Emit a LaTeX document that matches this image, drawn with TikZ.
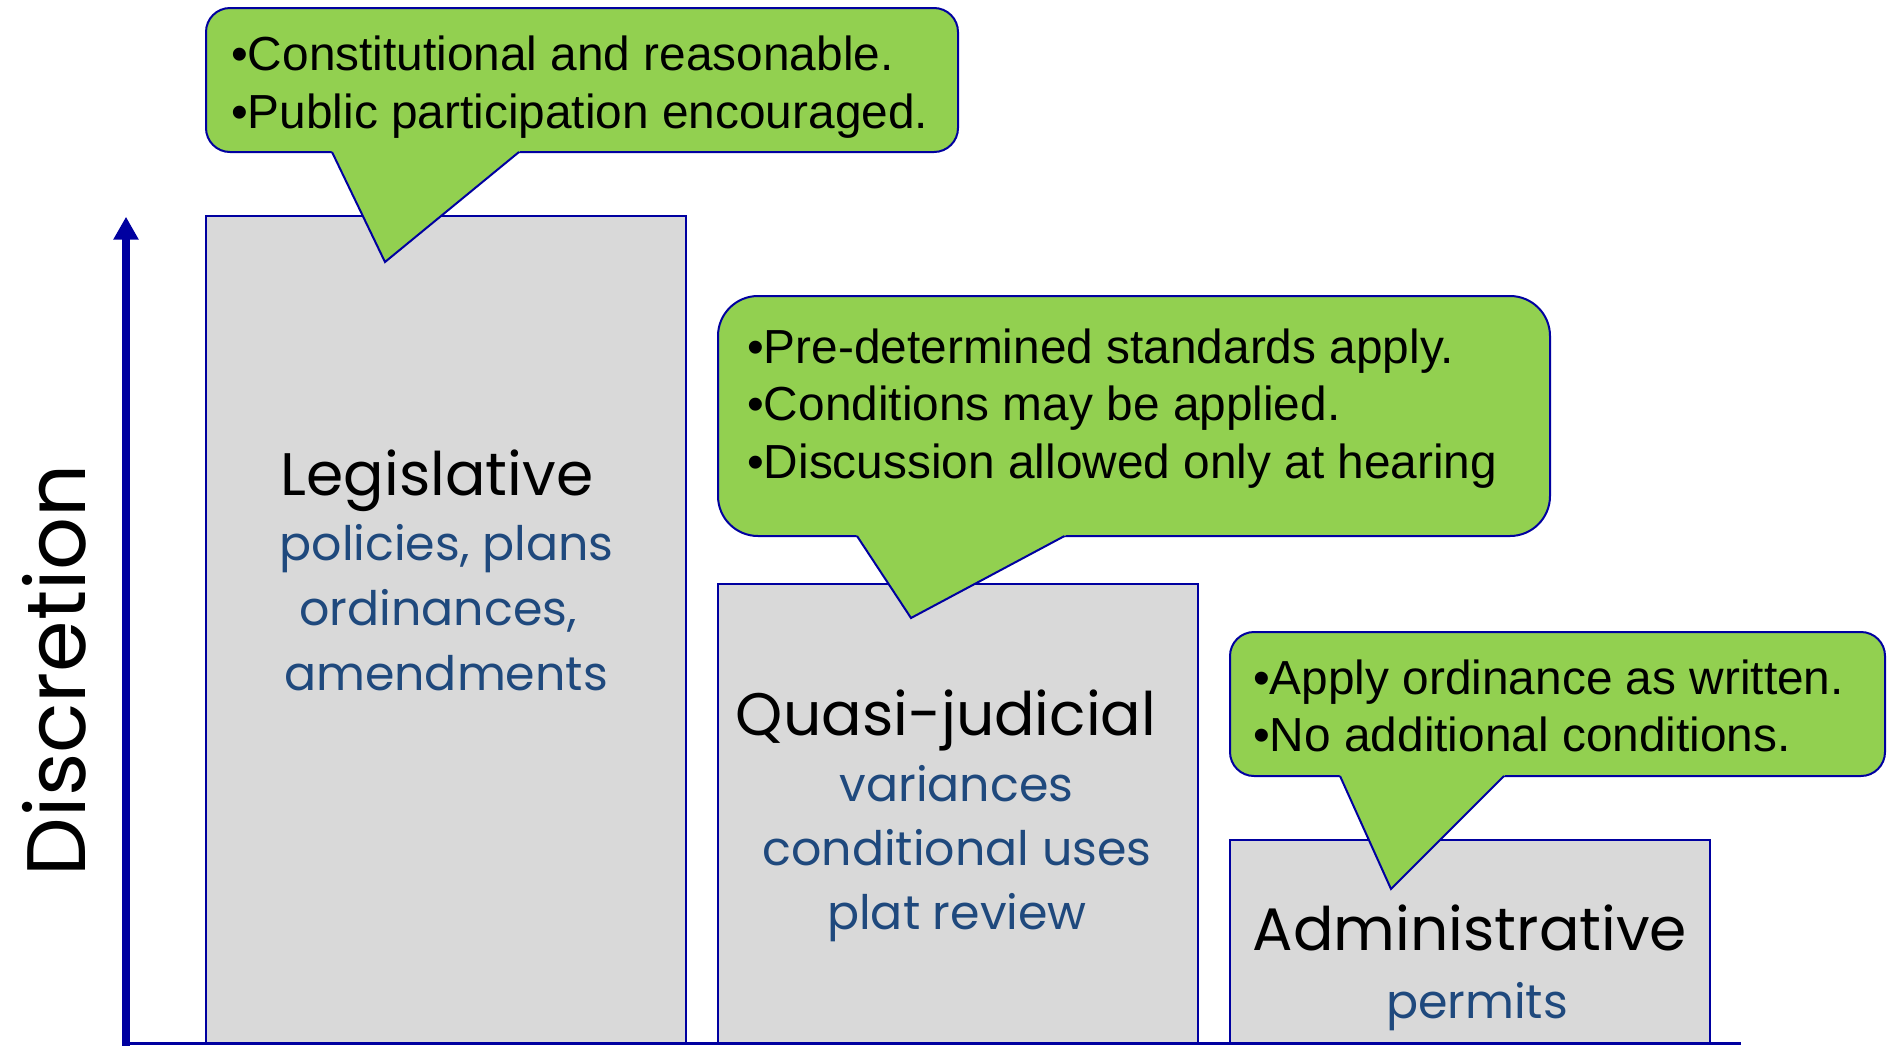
\documentclass[tikz,border=0pt]{standalone}
\usepackage{fontspec}
\setmainfont{Liberation Sans}
\newfontfamily\comic{Poppins}
\usetikzlibrary{arrows.meta,calc}
\definecolor{navyline}{RGB}{0,0,160}
\definecolor{calloutgreen}{RGB}{146,208,80}
\definecolor{boxgrey}{RGB}{217,217,217}
\definecolor{subblue}{RGB}{31,73,125}
\begin{document}
\begin{tikzpicture}[x=1pt,y=-1pt,
  box/.style={draw=navyline, fill=boxgrey, line width=2.2pt, minimum width=480pt, inner sep=0pt, outer sep=0pt, anchor=north west},
  callout/.style={draw=navyline, fill=calloutgreen, line width=2pt, inner sep=0pt, outer sep=0pt, anchor=north west},
  tailline/.style={draw=navyline, line width=2pt, line join=miter},
  bullettext/.style={font=\fontsize{47.8}{57.5}\selectfont, anchor=base west, inner sep=0pt},
  titletext/.style={font=\comic\fontsize{60}{70}\selectfont, anchor=base, inner sep=0pt},
  subtext/.style={font=\comic\fontsize{47.5}{58}\selectfont, text=subblue, anchor=base, inner sep=0pt}
]
\useasboundingbox (0,0) rectangle (1895,1045);
\fill[white] (0,0) rectangle (1895,1045);
\clip (0,0) rectangle (1895,1045);

% boxes
\node[box, minimum height=827.5pt] (leg) at (206,216) {};
\node[box, minimum height=459.5pt] (qua) at (718,584) {};
\node[box, minimum height=203.5pt] (adm) at (1230,840) {};

% axis and arrow
\coordinate (ax0) at (122,1043.5);
\coordinate (ax1) at (1741,1043.5);
\draw[navyline, line width=2.5pt] (ax0) -- (ax1);
\coordinate (arrbot) at (126,1046);
\coordinate (arrtop) at (126,216.7);
\draw[navyline, line width=8pt, -{Triangle[width=24pt,length=23pt]}] (arrbot) -- (arrtop);

% callout 1
\node[callout, minimum width=752pt, minimum height=144pt, rounded corners=24pt] (c1) at (206,8) {};
\coordinate (c1a) at (332,152);
\coordinate (c1b) at (519,152);
\coordinate (c1t) at (385,262);
\fill[calloutgreen] ($(c1a)!-3pt!(c1t)$) -- (c1t) -- ($(c1b)!-3pt!(c1t)$) -- cycle;
\draw[tailline] (c1a) -- (c1t) -- (c1b);

% callout 2
\node[callout, minimum width=832pt, minimum height=240pt, rounded corners=40pt] (c2) at (718,296) {};
\coordinate (c2a) at (857,536);
\coordinate (c2b) at (1064.5,536);
\coordinate (c2t) at (911,618);
\fill[calloutgreen] ($(c2a)!-3pt!(c2t)$) -- (c2t) -- ($(c2b)!-3pt!(c2t)$) -- cycle;
\draw[tailline] (c2a) -- (c2t) -- (c2b);

% callout 3
\node[callout, minimum width=655pt, minimum height=144pt, rounded corners=24pt] (c3) at (1230,632) {};
\coordinate (c3a) at (1340,776);
\coordinate (c3b) at (1504,776);
\coordinate (c3t) at (1391,889);
\fill[calloutgreen] ($(c3a)!-3pt!(c3t)$) -- (c3t) -- ($(c3b)!-3pt!(c3t)$) -- cycle;
\draw[tailline] (c3a) -- (c3t) -- (c3b);

% callout texts
\node[bullettext] (c1l1) at (231,70.7) {•Constitutional and reasonable.};
\node[bullettext] (c1l2) at (231,128.3) {•Public participation encouraged.};
\node[bullettext] (c2l1) at (747,363) {•Pre-determined standards apply.};
\node[bullettext] (c2l2) at (747,420) {•Conditions may be applied.};
\node[bullettext] (c2l3) at (747,478) {•Discussion allowed only at hearing};
\node[bullettext] (c3l1) at (1253,694) {•Apply ordinance as written.};
\node[bullettext] (c3l2) at (1253,751.7) {•No additional conditions.};

% box texts
\node[titletext] (legt) at (437,495) {Legislative};
\node[subtext] (legs1) at (446.5,560) {policies, plans};
\node[subtext] (legs2) at (438,625.6) {ordinances,};
\node[subtext] (legs3) at (446,690) {amendments};
\node[titletext] (quat) at (946,735) {Quasi-judicial};
\node[subtext] (quas1) at (956.5,801) {variances};
\node[subtext] (quas2) at (957,865) {conditional uses};
\node[subtext] (quas3) at (957,929) {plat review};
\node[titletext] (admt) at (1470,950) {Administrative};
\node[subtext] (adms1) at (1477,1018) {permits};

% axis label
\node[font=\comic\fontsize{83}{90}\selectfont, rotate=90, anchor=base, inner sep=0pt] (disc) at (85,670) {Discretion};
\end{tikzpicture}
\end{document}
